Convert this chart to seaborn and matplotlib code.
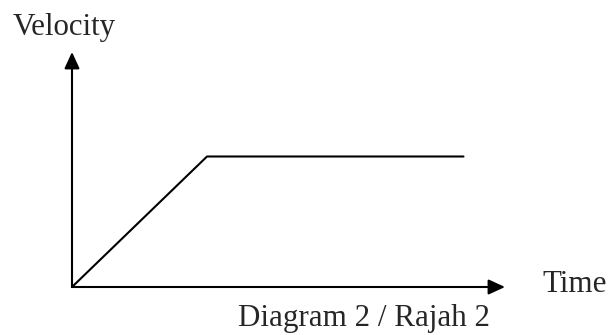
import matplotlib
matplotlib.use("Agg")
import matplotlib.pyplot as plt
import seaborn as sns
import pandas as pd

# velocity-time graph: uniform acceleration then constant velocity
time = [0, 3, 8.7]
velocity = [0, 2.9, 2.9]
x_label = "Time"
y_label = "Velocity"
caption = "Diagram 2 / Rajah 2"

sns.set_style("white")
plt.rcParams['font.family'] = ['Liberation Serif', 'DejaVu Serif']

df = pd.DataFrame({"time": time, "velocity": velocity})

W, H = 609, 335
fig = plt.figure(figsize=(W / 100, H / 100), dpi=100)
# origin at (72, 287) px, x arrow tip at 505 px, y arrow tip at 52 px
ax = fig.add_axes([72 / W, (H - 287) / H, (505 - 72) / W, (287 - 52) / H])
ax.set_xlim(0, 433 / 45)
ax.set_ylim(0, 235 / 45)

sns.lineplot(data=df, x="time", y="velocity", ax=ax, color="black", lw=1.5,
             clip_on=False)

ax.set_axis_off()
arrow = dict(arrowstyle="-|>,head_length=0.5,head_width=0.23",
             mutation_scale=20, lw=1.5, color="black", shrinkA=0, shrinkB=0)
ax.annotate("", xy=(1, 0), xytext=(0, 0), xycoords="axes fraction",
            arrowprops=arrow)
ax.annotate("", xy=(0, 1), xytext=(0, 0), xycoords="axes fraction",
            arrowprops=arrow)

fs = 22.3
fig.text(13 / W, (H - 35) / H, y_label, fontsize=fs, va="baseline", ha="left")
fig.text(542 / W, (H - 292) / H, x_label, fontsize=fs, va="baseline", ha="left")
fig.text(364 / W, (H - 326) / H, caption, fontsize=fs, va="baseline", ha="center")

fig.savefig("out.png", dpi=100, facecolor="white")
